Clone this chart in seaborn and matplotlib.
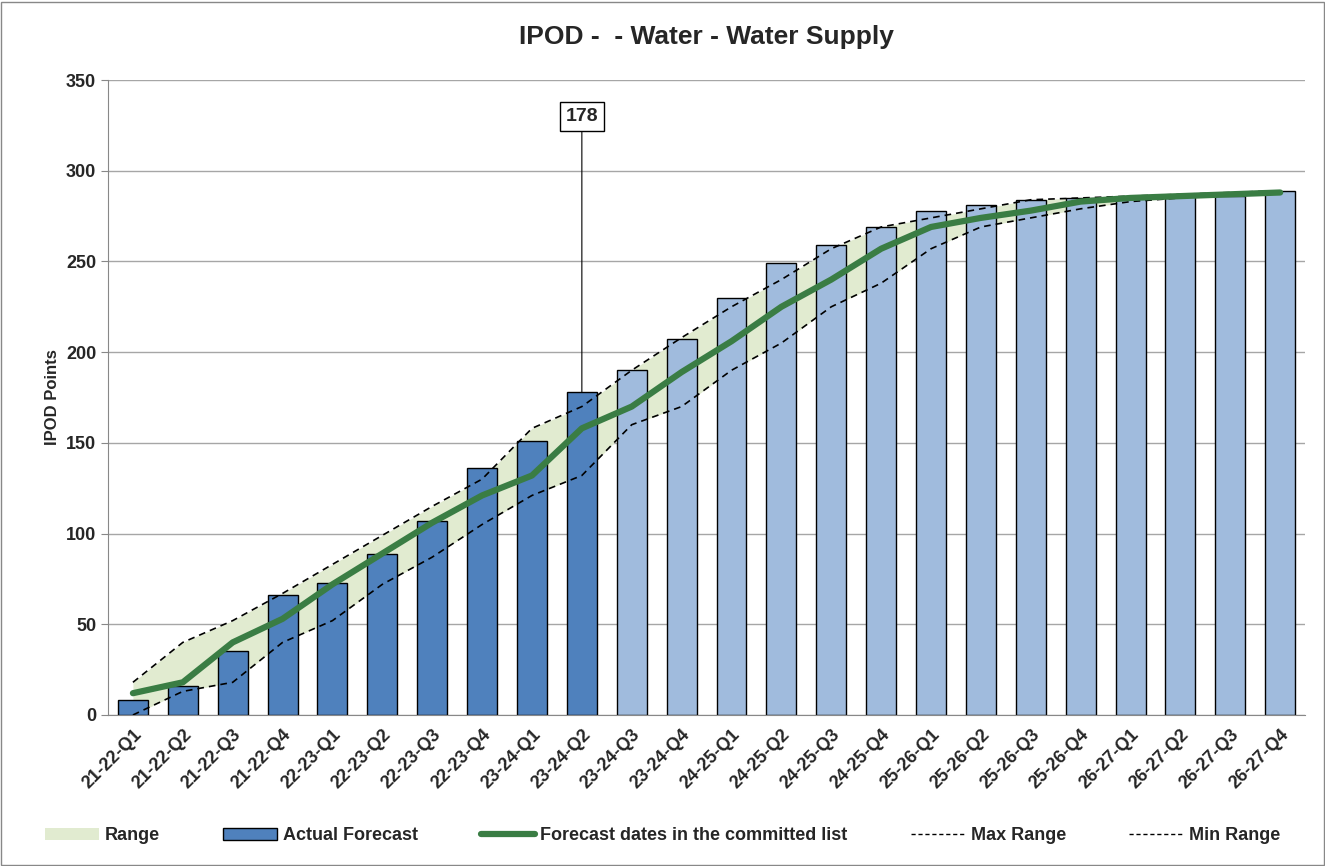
import numpy as np
import pandas as pd
import matplotlib
matplotlib.use("Agg")
import matplotlib.pyplot as plt
import seaborn as sns
from matplotlib.patches import Patch, Rectangle
from matplotlib.lines import Line2D

# data
quarters = ["21-22-Q1", "21-22-Q2", "21-22-Q3", "21-22-Q4",
            "22-23-Q1", "22-23-Q2", "22-23-Q3", "22-23-Q4",
            "23-24-Q1", "23-24-Q2", "23-24-Q3", "23-24-Q4",
            "24-25-Q1", "24-25-Q2", "24-25-Q3", "24-25-Q4",
            "25-26-Q1", "25-26-Q2", "25-26-Q3", "25-26-Q4",
            "26-27-Q1", "26-27-Q2", "26-27-Q3", "26-27-Q4"]
bar_values = [8, 16, 35, 66, 73, 89, 107, 136, 151, 178, 190, 207,
              230, 249, 259, 269, 278, 281, 284, 285, 285, 286, 286, 289]
n_actual = 10  # first 10 quarters are actuals
committed = [12, 18, 40, 53, 72, 89, 106, 121, 132, 158, 170, 189,
             206, 225, 240, 257, 269, 274, 278, 283, 285, 286, 287, 288]
max_range = [18, 40, 52, 67, 83, 99, 115, 130, 158, 170, 190, 208,
             225, 240, 257, 269, 274, 279, 284, 285, 286, 287, 288, 289]
min_range = [0, 13, 18, 40, 52, 72, 87, 105, 121, 132, 160, 170,
             190, 205, 225, 238, 257, 269, 274, 279, 283, 285, 287, 288]
label_idx = 9

dark_blue = "#4F81BD"
light_blue = "#A0BBDD"
green = "#3A7D44"
range_col = "#E1EBD0"

sns.set_style("white")
plt.rcParams['font.family'] = ['Liberation Sans Narrow', 'Liberation Sans', 'DejaVu Sans']
plt.rcParams['font.weight'] = 'bold'

df = pd.DataFrame({
    "quarter": quarters,
    "points": bar_values,
    "kind": ["Actual" if i < n_actual else "Forecast" for i in range(len(quarters))],
})

fig = plt.figure(figsize=(13.25, 8.66), dpi=100)
ax = fig.add_axes([0.0815, 0.1744, 0.9035, 0.7332])

x = np.arange(len(quarters))
ax.fill_between(x, min_range, max_range, color=range_col, zorder=1, lw=0)
sns.barplot(data=df, x="quarter", y="points", hue="kind",
            palette={"Actual": dark_blue, "Forecast": light_blue},
            dodge=False, width=0.6, edgecolor="black", linewidth=1.0,
            saturation=1, legend=False, ax=ax, zorder=2)
sns.lineplot(x=x, y=max_range, color="black", lw=1.2, ax=ax, zorder=3,
             linestyle=(0, (4, 3)))
sns.lineplot(x=x, y=min_range, color="black", lw=1.2, ax=ax, zorder=3,
             linestyle=(0, (4, 3)))
sns.lineplot(x=x, y=committed, color=green, lw=4.5, ax=ax, zorder=4)

ax.set_xlim(-0.5, len(quarters) - 0.5)
ax.set_ylim(0, 350)
ax.set_yticks(range(0, 351, 50))
ax.yaxis.grid(True, color="#A6A6A6", lw=1)
ax.set_axisbelow(True)
for s in ["top", "right"]:
    ax.spines[s].set_visible(False)
for s in ["left", "bottom"]:
    ax.spines[s].set_color("#888888")

ax.set_xticks(x)
ax.set_xticklabels(quarters, rotation=45, ha="right", rotation_mode="anchor",
                   fontsize=13, fontweight="bold")
ax.tick_params(axis="x", length=0, pad=8)
ax.set_xticks(np.arange(-0.5, len(quarters), 1), minor=True)
ax.tick_params(axis="x", which="minor", length=6, color="#888888")
ax.tick_params(axis="y", labelsize=13, length=5, color="#888888", left=True)
for t in ax.get_yticklabels():
    t.set_fontweight("bold")
ax.set_xlabel("")
ax.set_ylabel("IPOD Points", fontsize=12, fontweight="bold")

ax.set_title("IPOD -  - Water - Water Supply", fontsize=19, fontweight="bold", pad=26)

# data label with leader line
ax.annotate(str(bar_values[label_idx]), xy=(label_idx, bar_values[label_idx]),
            xytext=(label_idx, 330), ha="center", va="center", fontsize=14,
            fontweight="bold",
            bbox=dict(boxstyle="square,pad=0.3", fc="white", ec="black", lw=1),
            arrowprops=dict(arrowstyle="-", color="black", lw=0.8,
                            shrinkA=0, shrinkB=0))

handles = [
    Patch(facecolor=range_col, edgecolor="none", label="Range"),
    Patch(facecolor=dark_blue, edgecolor="black", label="Actual Forecast"),
    Line2D([], [], color=green, lw=4.5, label="Forecast dates in the committed list"),
    Line2D([], [], color="black", lw=1, linestyle=(0, (3, 2)), label="Max Range"),
    Line2D([], [], color="black", lw=1, linestyle=(0, (3, 2)), label="Min Range"),
]
fig.legend(handles=handles, loc="center", bbox_to_anchor=(0.5, 0.035), ncol=5,
           frameon=False, fontsize=13, handlelength=3, columnspacing=3.5,
           handletextpad=0.3)

fig.add_artist(Rectangle((0.001, 0.001), 0.998, 0.997, transform=fig.transFigure,
                         fill=False, ec="#888888", lw=1))

fig.savefig("out.png", dpi=100)
